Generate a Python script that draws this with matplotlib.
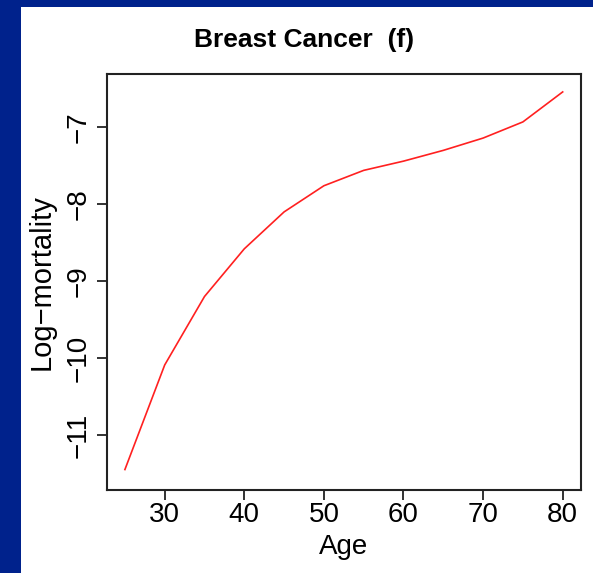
import matplotlib
matplotlib.use("Agg")
import matplotlib.pyplot as plt
from matplotlib.patches import Rectangle

# log-mortality by age
ages = [25, 30, 35, 40, 45, 50, 55, 60, 65, 70, 75, 80]
log_mort = [-11.45, -10.09, -9.20, -8.58, -8.10, -7.76, -7.56, -7.44, -7.30, -7.14, -6.93, -6.54]
xticks = [30, 40, 50, 60, 70, 80]
yticks = [-11, -10, -9, -8, -7]

W, H = 593, 573
navy = "#00228C"

plt.rcParams['font.family'] = ['Liberation Sans', 'DejaVu Sans']

fig = plt.figure(figsize=(W / 100, H / 100), dpi=100, facecolor=navy)
# white slide panel, kept behind the axes
fig.patches.append(Rectangle((21 / W, 0), 1 - 21 / W, (H - 7) / H,
                             transform=fig.transFigure, facecolor="white",
                             edgecolor="none", zorder=-10))

ax = fig.add_axes([107 / W, (H - 490) / H, 474 / W, 416 / H])
ax.set_zorder(1)
ax.plot(ages, log_mort, color="#ff2020", lw=1.2)

ax.set_xlim(22.75, 82.3)
ax.set_ylim(-11.716, -6.307)
ax.set_xticks(xticks)
ax.set_yticks(yticks)
ax.tick_params(labelsize=20, length=7, width=1.3, color="#222222")
ax.tick_params(axis="x", pad=2)
ax.tick_params(axis="y", pad=4)
for lbl in ax.get_yticklabels():
    lbl.set_rotation(90)
    lbl.set_va("center")
for s in ax.spines.values():
    s.set_linewidth(1.5)
    s.set_color("#222222")

ax.set_xlabel("Age", fontsize=20, labelpad=4)
ax.set_ylabel("Log\u2212mortality", fontsize=21, labelpad=7)
fig.text(304 / W, (H - 47) / H, "Breast Cancer  (f)", fontsize=19,
         fontweight="bold", ha="center", va="baseline")

fig.savefig("out.png", dpi=100, facecolor=fig.get_facecolor())
